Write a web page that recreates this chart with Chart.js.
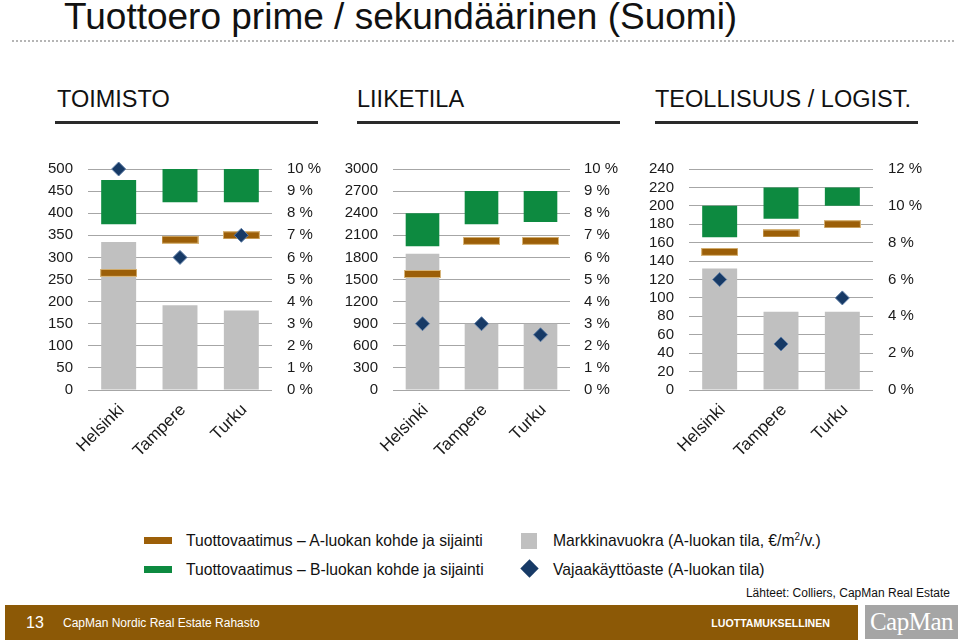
<!DOCTYPE html>
<html>
<head>
<meta charset="utf-8">
<script src="https://cdn.jsdelivr.net/npm/chart.js@4/dist/chart.umd.min.js"></script>
<style>
body{margin:0;width:960px;height:642px;position:relative;background:#fff;font-family:"Liberation Sans",Arial,sans-serif;overflow:hidden;color:#111;}
.abs{position:absolute;white-space:nowrap;}
#title{left:64px;top:-5px;font-size:37px;line-height:44px;}
#dots{left:12px;top:40px;width:942px;border-top:2px dotted #b5b5b5;}
.head{font-size:23.5px;line-height:26px;top:86px;}
.uline{top:121px;height:3px;background:#2a2a2a;width:263px;}
canvas{position:absolute;}
.leg{font-size:15.7px;line-height:18px;}
#foot{left:5px;top:605px;width:853px;height:35px;background:#8c5906;color:#fff;}
#logo{left:865px;top:605px;width:93px;height:34px;background:#a5a5a5;color:#fff;font-family:"Liberation Serif",serif;font-size:25px;line-height:34px;text-align:center;letter-spacing:-0.5px;}
</style>
</head>
<body>
<div id="title" class="abs">Tuottoero prime / sekundäärinen (Suomi)</div>
<div id="dots" class="abs"></div>

<div class="abs head" style="left:57px">TOIMISTO</div>
<div class="abs head" style="left:357px">LIIKETILA</div>
<div class="abs head" style="left:655px">TEOLLISUUS / LOGIST.</div>
<div class="abs uline" style="left:55px"></div>
<div class="abs uline" style="left:357px"></div>
<div class="abs uline" style="left:655px"></div>

<canvas id="office" width="320" height="325" style="left:20px;top:145px"></canvas>
<canvas id="retail" width="300" height="325" style="left:330px;top:145px"></canvas>
<canvas id="industry" width="320" height="325" style="left:635px;top:145px"></canvas>

<div class="abs" style="left:144px;top:537px;width:28px;height:7px;background:#9c5f08"></div>
<div class="abs leg" style="left:186px;top:532px">Tuottovaatimus – A-luokan kohde ja sijainti</div>
<div class="abs" style="left:144px;top:566px;width:28px;height:7px;background:#0d8a40"></div>
<div class="abs leg" style="left:186px;top:561px">Tuottovaatimus – B-luokan kohde ja sijainti</div>
<div class="abs" style="left:521px;top:533px;width:16px;height:16px;background:#c0c0c0"></div>
<div class="abs leg" style="left:553px;top:532px">Markkinavuokra (A-luokan tila, €/m<sup style="font-size:10px;line-height:0">2</sup>/v.)</div>
<div class="abs" style="left:523px;top:562px;width:13px;height:13px;background:#173a66;transform:rotate(45deg)"></div>
<div class="abs leg" style="left:553px;top:561px">Vajaakäyttöaste (A-luokan tila)</div>
<div class="abs" style="right:10px;top:586px;font-size:12px;line-height:15px">Lähteet: Colliers, CapMan Real Estate</div>

<div id="foot" class="abs">
  <div class="abs" style="left:21px;top:8px;font-size:16px;line-height:19px">13</div>
  <div class="abs" style="left:58px;top:10px;font-size:12px;line-height:16px">CapMan Nordic Real Estate Rahasto</div>
  <div class="abs" style="right:28px;top:11px;font-size:10.6px;line-height:14px;font-weight:bold">LUOTTAMUKSELLINEN</div>
</div>
<div id="logo" class="abs">CapMan</div>

<script>
'use strict';

const cities = ['Helsinki', 'Tampere', 'Turku'];

// TOIMISTO
const officeRent = [335, 192, 180];
const officeYieldB = [[7.5, 9.5], [8.5, 10], [8.5, 10]];
const officeYieldA = [5.3, 6.8, 7.0];
const officeVacancy = [10, 6, 7];

// LIIKETILA
const retailRent = [1850, 900, 900];
const retailYieldB = [[6.5, 8], [7.5, 9], [7.6, 9]];
const retailYieldA = [5.25, 6.75, 6.75];
const retailVacancy = [3, 3, 2.5];

// TEOLLISUUS / LOGIST.
const industryRent = [132, 85, 85];
const industryYieldB = [[8.3, 10], [9.3, 11], [10, 11]];
const industryYieldA = [7.5, 8.5, 9.0];
const industryVacancy = [6, 2.5, 5];

// brown marker as image point
var mark = document.createElement('canvas');
mark.width = 37; mark.height = 8;
var mctx = mark.getContext('2d');
mctx.fillStyle = '#d7b57a';
mctx.fillRect(0, 0, 37, 8);
mctx.fillStyle = '#9c5f08';
mctx.fillRect(1, 1, 35, 6);

const fam = '"Liberation Sans", Arial, sans-serif';
const tickFont = {family: fam, size: 15};
const tickColor = '#1a1a1a';

var makeChart = (id, rent, yieldB, yieldA, vacancy, ax) => {
  var ctx = document.getElementById(id).getContext('2d');
  return new Chart(ctx, {
    type: 'bar',
    data: {
      labels: cities,
      datasets: [
        {type: 'line', data: vacancy, yAxisID: 'y1', showLine: false, order: 1, clip: false,
         pointStyle: 'rectRot', pointRadius: 7, pointBackgroundColor: '#173a66',
         pointBorderColor: '#5f7ea6', pointBorderWidth: 1},
        {type: 'line', data: yieldA, yAxisID: 'y1', showLine: false, order: 2, clip: false,
         pointStyle: mark},
        {data: yieldB, yAxisID: 'y1', backgroundColor: '#0d8a40', grouped: false, order: 3,
         barPercentage: 0.57, categoryPercentage: 1},
        {data: rent, yAxisID: 'y', backgroundColor: '#c0c0c0', grouped: false, order: 4,
         barPercentage: 0.57, categoryPercentage: 1}
      ]
    },
    options: {
      responsive: false,
      animation: false,
      layout: {padding: {top: 14}},
      plugins: {legend: {display: false}, tooltip: {enabled: false}},
      scales: {
        x: {
          grid: {display: false},
          border: {display: false},
          ticks: {font: {family: fam, size: 17}, color: tickColor, minRotation: 45, maxRotation: 45,
                  padding: 2, labelOffset: 3},
          afterFit: (s) => { s.height = ax.bottom; }
        },
        y: {
          position: 'left', min: 0, max: ax.lmax,
          grid: {color: '#a6a6a6', lineWidth: 1, drawTicks: false},
          border: {display: false},
          ticks: {stepSize: ax.lstep, autoSkip: false, font: tickFont, color: tickColor, padding: 15,
                  callback: (v) => String(v)},
          afterFit: (s) => { s.width = ax.left; }
        },
        y1: {
          position: 'right', min: 0, max: ax.rmax,
          grid: {display: false, drawTicks: false},
          border: {display: false},
          ticks: {stepSize: ax.rstep, autoSkip: false, font: tickFont, color: tickColor, padding: ax.rpad,
                  callback: (v) => v + ' %'},
          afterFit: (s) => { s.width = ax.right; }
        }
      }
    }
  });
};

window.onload = function() {
  makeChart('office', officeRent, officeYieldB, officeYieldA, officeVacancy,
            {lmax: 500, lstep: 50, rmax: 10, rstep: 1, left: 68, right: 68, rpad: 15, bottom: 80});
  makeChart('retail', retailRent, retailYieldB, retailYieldA, retailVacancy,
            {lmax: 3000, lstep: 300, rmax: 10, rstep: 1, left: 63, right: 60, rpad: 14, bottom: 80});
  makeChart('industry', industryRent, industryYieldB, industryYieldA, industryVacancy,
            {lmax: 240, lstep: 20, rmax: 12, rstep: 2, left: 54, right: 82, rpad: 15, bottom: 80});
};
</script>
</body>
</html>
